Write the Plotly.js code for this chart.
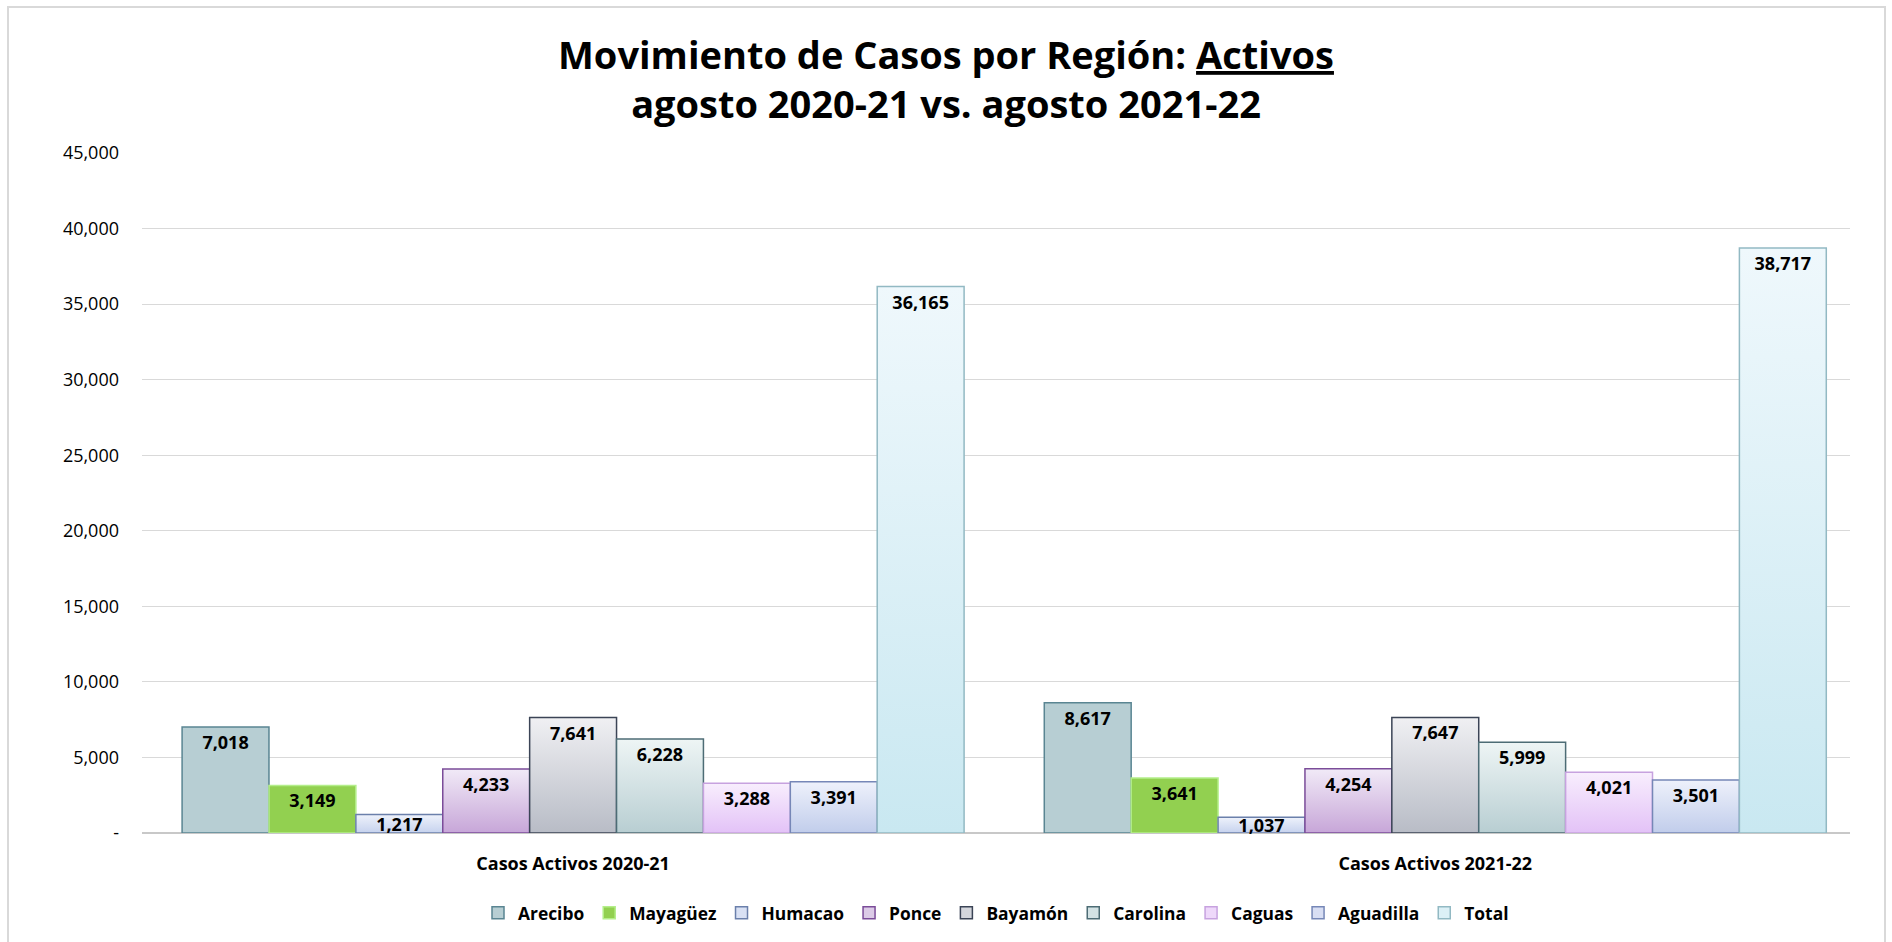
<!DOCTYPE html>
<html>
<head>
<meta charset="utf-8">
<script src="https://cdn.plot.ly/plotly-3.0.1.min.js"></script>
<style>
  html, body { margin:0; padding:0; background:#fff; }
  #chart { width:1892px; height:942px; }
  #frame { position:absolute; left:7px; top:6px; width:1879px; height:940px;
           border-left:2px solid #d9d9d9; border-top:2px solid #d9d9d9; border-right:2px solid #d9d9d9;
           pointer-events:none; box-sizing:border-box; }
</style>
</head>
<body>
<div id="chart"></div>
<div id="frame"></div>
<script>
// ---- data ----
const categories = ["Casos Activos 2020-21", "Casos Activos 2021-22"];
const regions = ["Arecibo", "Mayagüez", "Humacao", "Ponce", "Bayamón", "Carolina", "Caguas", "Aguadilla", "Total"];
const arecibo   = [7018, 8617];
const mayaguez  = [3149, 3641];
const humacao   = [1217, 1037];
const ponce     = [4233, 4254];
const bayamon   = [7641, 7647];
const carolina  = [6228, 5999];
const caguas    = [3288, 4021];
const aguadilla = [3391, 3501];
const total     = [36165, 38717];
const seriesValues = [arecibo, mayaguez, humacao, ponce, bayamon, carolina, caguas, aguadilla, total];
const yTickVals = [0, 5000, 10000, 15000, 20000, 25000, 30000, 35000, 40000, 45000];
const yTickText = ["-", "5,000", "10,000", "15,000", "20,000", "25,000", "30,000", "35,000", "40,000", "45,000"];

// ---- styles ----
const gradTop    = ["#b7ced3", "#92d050", "#eef2fb", "#f1eaf7", "#f0f0f3", "#eef5f5", "#f8eefd", "#eef1fb", "#eff8fc"];
const gradBottom = ["#b7ced3", "#92d050", "#c6d2ee", "#c7a6d8", "#b8bcc6", "#b8ced2", "#e3c2f7", "#c1cdeb", "#c9e8f1"];
const midColor   = ["#b7ced3", "#92d050", "#d9e1f4", "#dccbe7", "#d4d6dc", "#d3e2e4", "#eed8fa", "#d8def3", "#dcf0f6"];
const borderCol  = ["#5a8592", "#b4ee8a", "#6b80ab", "#7b4c99", "#3b4456", "#4d6c75", "#c7a2df", "#7687b7", "#92b9c3"];
const labelAnchor = ["end", "end", "middle", "end", "end", "end", "end", "end", "end"];

const FONT = "Open Sans, Noto Sans, DejaVu Sans, sans-serif";
const fmt = v => v.toLocaleString("en-US");

const traces = regions.map((name, i) => ({
  type: "bar",
  name: name,
  x: categories,
  y: seriesValues[i],
  text: seriesValues[i].map(fmt),
  textposition: "inside",
  insidetextanchor: labelAnchor[i],
  constraintext: "none",
  textangle: 0,
  cliponaxis: false,
  textfont: { family: FONT, size: 18, color: "#000", weight: "bold" },
  insidetextfont: { family: FONT, size: 18, color: "#000", weight: "bold" },
  marker: { color: midColor[i], line: { color: borderCol[i], width: 1.5 } },
  hoverinfo: "x+y+name"
}));

const layout = {
  width: 1892, height: 942,
  paper_bgcolor: "#fff", plot_bgcolor: "#fff",
  margin: { l: 142, r: 42, t: 153, b: 108 },
  barmode: "group", bargap: 0.093, bargroupgap: 0,
  title: {
    text: "<b>Movimiento de Casos por Región: <u>Activos</u><br>agosto 2020-21 vs. agosto 2021-22</b>",
    font: { family: FONT, size: 38, color: "#000" },
    x: 0.5, xanchor: "center", xref: "container",
    y: 1 - 69/942, yanchor: "middle", yref: "container"
  },
  xaxis: {
    type: "category",
    range: [-0.5, 1.481],
    showgrid: false, zeroline: false, showline: false, ticks: "",
    ticklabelstandoff: 18,
    tickfont: { family: FONT, size: 18, color: "#000", weight: "bold" }
  },
  yaxis: {
    range: [0, 45000],
    tickvals: yTickVals, ticktext: yTickText,
    showgrid: true, gridcolor: "#d9d9d9", gridwidth: 1,
    zeroline: true, zerolinecolor: "#c8c8c8", zerolinewidth: 2,
    showline: false, ticks: "",
    ticklabelstandoff: 22,
    tickfont: { family: FONT, size: 18, color: "#000" }
  },
  legend: {
    orientation: "h", x: 0.5, xanchor: "center", y: -0.116, yanchor: "middle",
    font: { family: FONT, size: 17.4, color: "#000", weight: "bold" },
    traceorder: "normal", itemclick: false, itemdoubleclick: false
  },
  showlegend: true
};

function applyGradients(gd) {
  const svg = gd.querySelector(".main-svg");
  if (!svg) return;
  let defs = svg.querySelector("defs#barGradDefs");
  if (!defs) {
    defs = document.createElementNS("http://www.w3.org/2000/svg", "defs");
    defs.setAttribute("id", "barGradDefs");
    svg.insertBefore(defs, svg.firstChild);
    regions.forEach((r, i) => {
      const g = document.createElementNS("http://www.w3.org/2000/svg", "linearGradient");
      g.setAttribute("id", "bg" + i);
      g.setAttribute("x1", "0"); g.setAttribute("y1", "0");
      g.setAttribute("x2", "0"); g.setAttribute("y2", "1");
      const s1 = document.createElementNS("http://www.w3.org/2000/svg", "stop");
      s1.setAttribute("offset", "0"); s1.setAttribute("stop-color", gradTop[i]);
      const s2 = document.createElementNS("http://www.w3.org/2000/svg", "stop");
      s2.setAttribute("offset", "1"); s2.setAttribute("stop-color", gradBottom[i]);
      g.appendChild(s1); g.appendChild(s2); defs.appendChild(g);
    });
  }
  const tr = gd.querySelectorAll(".barlayer .trace");
  tr.forEach((t, i) => {
    t.querySelectorAll(".point path").forEach(p => { p.style.fill = "url(#bg" + i + ")"; });
  });
}

const gd = document.getElementById("chart");
Plotly.newPlot(gd, traces, layout, { displayModeBar: false, responsive: false }).then(() => {
  applyGradients(gd);
  gd.on("plotly_afterplot", () => applyGradients(gd));
});
</script>
</body>
</html>
